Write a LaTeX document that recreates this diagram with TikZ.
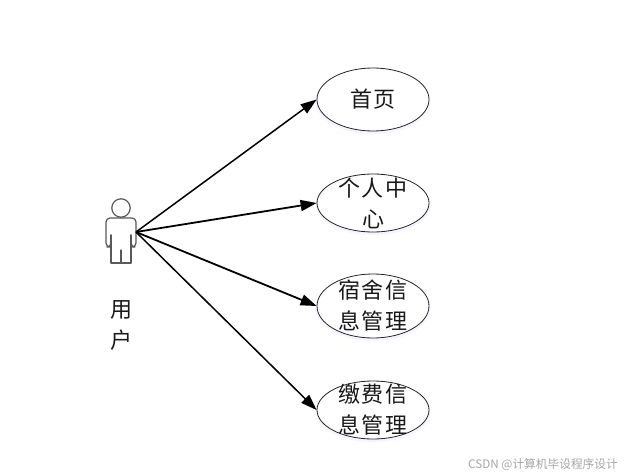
\documentclass[tikz,border=0pt]{standalone}
\usepackage{fontspec}
\setmainfont{Noto Sans CJK SC}
\newfontfamily\cjk{Noto Sans CJK SC}
\usetikzlibrary{arrows.meta,shapes.geometric}
\newcommand{\gp}{\kern2pt\relax}
\tikzset{
  usecase/.style={ellipse,draw=black!85,line width=0.8pt,fill=white,minimum width=112pt,minimum height=#1,inner sep=0pt,
    preaction={draw=blue!4,line width=3pt,transform canvas={yshift=-1.5pt}}},
  uclabel/.style={font=\cjk\fontsize{22}{31}\selectfont,align=center,text=black!90,inner sep=0pt},
  assoc/.style={black,line width=1.5pt,-{Stealth[length=16pt,width=11pt,inset=0pt]},shorten >=0pt},
  actorline/.style={draw=black!65,line width=1.2pt,line join=round,line cap=round},
  mark text/.style={font=\cjk\fontsize{11.7}{13}\selectfont,text=black!35,inner sep=0pt}
}
\begin{document}
\begin{tikzpicture}[x=1pt,y=-1pt]
\useasboundingbox (0,0) rectangle (624,476);
\fill[white] (0,0) rectangle (624,476);
% actor
\draw[actorline] (121,208) circle (9.2);
\draw[actorline,rounded corners=4pt] (111,235) -- (111,247) -- (106,247) -- (106,218) -- (136,218) -- (136,247) -- (131,247) -- (131,235);
\draw[actorline] (111,235) -- (111,263) -- (131,263) -- (131,235);
\draw[actorline] (121,250) -- (121,263);
\coordinate (hand) at (136,232);
\node[uclabel] (user) at (121,325) {用\\户};
% use cases
\node[usecase=63pt] (a) at (373,99.5) {};
\node[usecase=58pt] (b) at (373,203) {};
\node[usecase=64pt] (c) at (373,306) {};
\node[usecase=58pt] (d) at (373,410) {};
\node[uclabel] at (a) {首\gp 页};
\node[uclabel] at (b) {个\gp 人\gp 中\\心};
\node[uclabel] at (c) {宿\gp 舍\gp 信\\息\gp 管\gp 理};
\node[uclabel] at (d) {缴\gp 费\gp 信\\息\gp 管\gp 理};
% connectors
\draw[assoc] (hand) -- (a.west);
\draw[assoc,line width=1.8pt] (hand) -- (b.west);
\draw[assoc,line width=1.8pt] (hand) -- (c.west);
\draw[assoc] (hand) -- (d.west);
\node[mark text,anchor=east] (wm) at (618,465) {CSDN @计算机毕设程序设计};
\end{tikzpicture}
\end{document}
